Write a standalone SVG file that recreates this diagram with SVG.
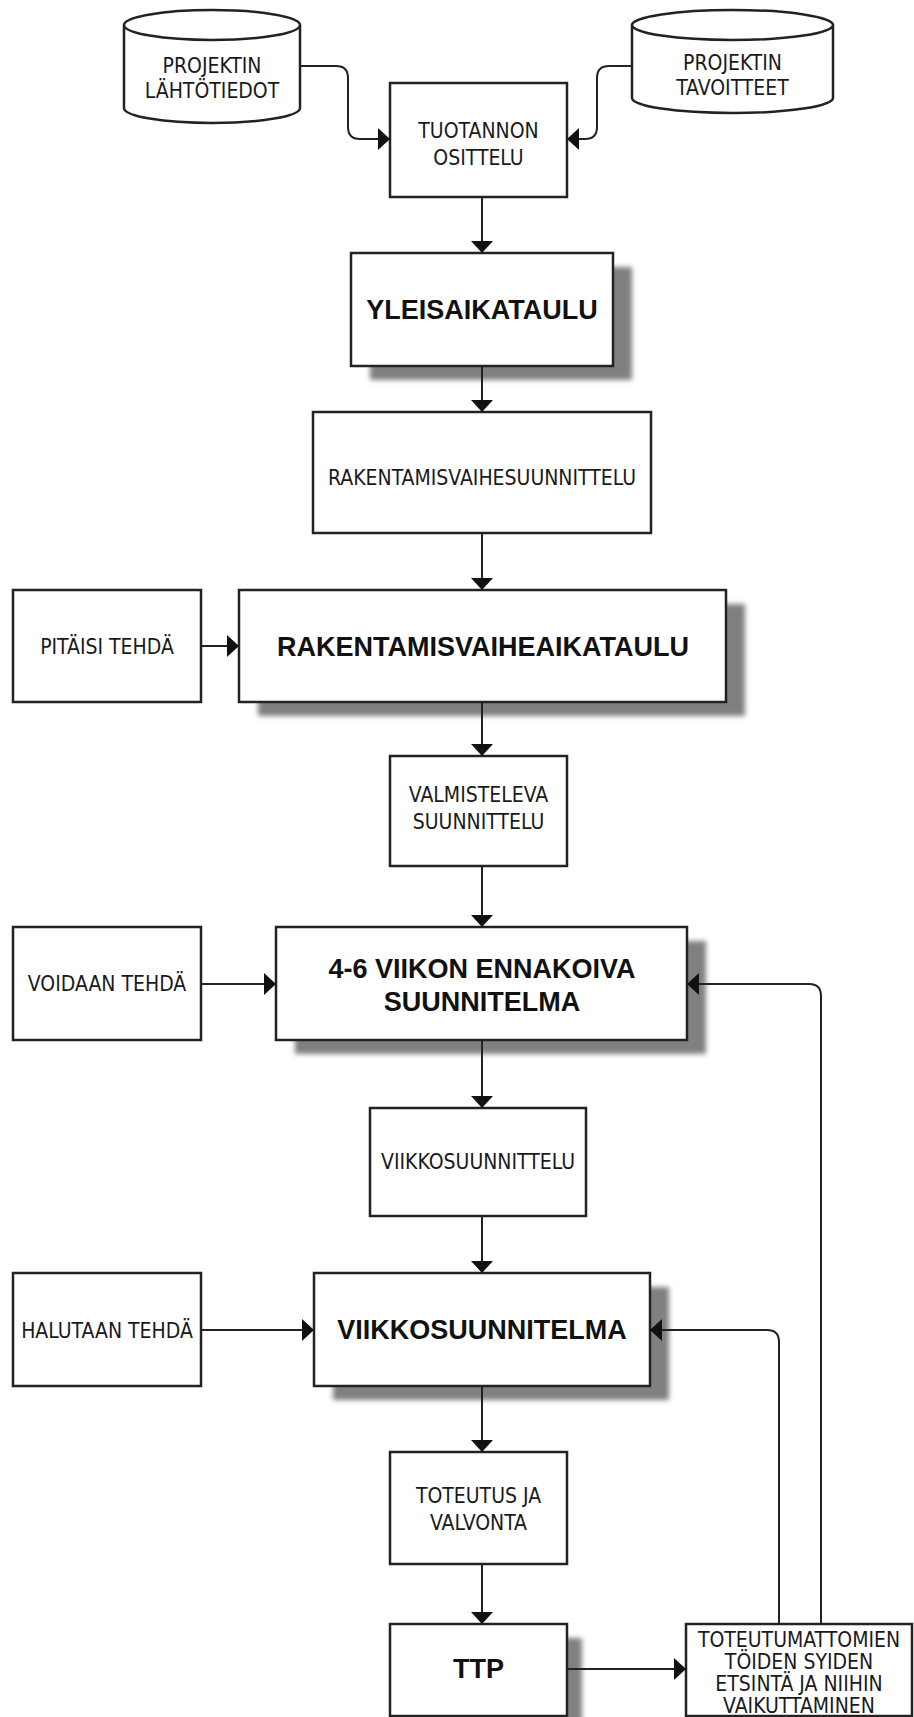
<svg xmlns="http://www.w3.org/2000/svg" width="914" height="1717" viewBox="0 0 914 1717">
<style>
.box{fill:#fff;stroke:#222;stroke-width:2.5}
.shadow{fill:#808080;filter:url(#blur)}
.t{font-family:"DejaVu Sans Condensed","DejaVu Sans",sans-serif;font-stretch:condensed;font-size:21px;fill:#1a1a1a;text-anchor:middle}
.b{font-family:"Liberation Sans",Arial,sans-serif;font-size:27px;font-weight:bold;fill:#111;text-anchor:middle}
.c{fill:none;stroke:#222;stroke-width:2}
</style>
<defs>
<filter id="blur" x="-10%" y="-10%" width="120%" height="120%"><feGaussianBlur stdDeviation="2.5"/></filter>
<marker id="arr" viewBox="0 0 12 22" refX="12" refY="11" markerWidth="12" markerHeight="22" markerUnits="userSpaceOnUse" orient="auto"><path d="M0,0 L12,11 L0,22 Z" fill="#111"/></marker>
</defs>
<rect width="914" height="1717" fill="#fff"/>

<g id="n-lahtotiedot">
<path class="box" d="M124,25 V108 A88,15 0 0 0 300,108 V25 A88,15 0 0 0 124,25 Z"/>
<path class="box" d="M124,25 A88,15 0 0 0 300,25"/>
<text class="t" x="212" y="73">PROJEKTIN</text>
<text class="t" x="212" y="98">LÄHTÖTIEDOT</text>
</g>

<g id="n-tavoitteet">
<path class="box" d="M632,25 V98 A100.5,15 0 0 0 833,98 V25 A100.5,15 0 0 0 632,25 Z"/>
<path class="box" d="M632,25 A100.5,15 0 0 0 833,25"/>
<text class="t" x="732.5" y="70">PROJEKTIN</text>
<text class="t" x="732.5" y="95">TAVOITTEET</text>
</g>

<g id="n-osittelu">
<rect class="box" x="390" y="83" width="177" height="114"/>
<text class="t" x="478.5" y="138">TUOTANNON</text>
<text class="t" x="478.5" y="165">OSITTELU</text>
</g>

<g id="n-yleisaikataulu">
<rect class="shadow" x="370" y="267" width="262" height="113"/>
<rect class="box" x="351" y="253" width="262" height="113"/>
<text class="b" x="482" y="319">YLEISAIKATAULU</text>
</g>

<g id="n-rvsuunnittelu">
<rect class="box" x="313" y="412" width="338" height="121"/>
<text class="t" x="482" y="485">RAKENTAMISVAIHESUUNNITTELU</text>
</g>

<g id="n-pitaisi">
<rect class="box" x="13" y="590" width="188" height="112"/>
<text class="t" x="107" y="654">PITÄISI TEHDÄ</text>
</g>

<g id="n-rvaikataulu">
<rect class="shadow" x="258" y="604" width="487" height="112"/>
<rect class="box" x="239" y="590" width="487" height="112"/>
<text class="b" x="483" y="656">RAKENTAMISVAIHEAIKATAULU</text>
</g>

<g id="n-valmisteleva">
<rect class="box" x="390" y="756" width="177" height="110"/>
<text class="t" x="478.5" y="802">VALMISTELEVA</text>
<text class="t" x="478.5" y="829">SUUNNITTELU</text>
</g>

<g id="n-voidaan">
<rect class="box" x="13" y="927" width="188" height="113"/>
<text class="t" x="107" y="991">VOIDAAN TEHDÄ</text>
</g>

<g id="n-ennakoiva">
<rect class="shadow" x="295" y="941" width="411" height="113"/>
<rect class="box" x="276" y="927" width="411" height="113"/>
<text class="b" x="482" y="978">4-6 VIIKON ENNAKOIVA</text>
<text class="b" x="482" y="1011">SUUNNITELMA</text>
</g>

<g id="n-viikkosuunnittelu">
<rect class="box" x="370" y="1108" width="216" height="108"/>
<text class="t" x="478" y="1169">VIIKKOSUUNNITTELU</text>
</g>

<g id="n-halutaan">
<rect class="box" x="13" y="1273" width="188" height="113"/>
<text class="t" x="107" y="1338">HALUTAAN TEHDÄ</text>
</g>

<g id="n-viikkosuunnitelma">
<rect class="shadow" x="333" y="1287" width="336" height="113"/>
<rect class="box" x="314" y="1273" width="336" height="113"/>
<text class="b" x="482" y="1339">VIIKKOSUUNNITELMA</text>
</g>

<g id="n-toteutus">
<rect class="box" x="390" y="1452" width="177" height="112"/>
<text class="t" x="478.5" y="1503">TOTEUTUS JA</text>
<text class="t" x="478.5" y="1530">VALVONTA</text>
</g>

<g id="n-ttp">
<rect class="shadow" x="405" y="1638" width="177" height="92"/>
<rect class="box" x="390" y="1624" width="177" height="92"/>
<text class="b" x="478.5" y="1678">TTP</text>
</g>

<g id="n-toteutumattomien">
<rect class="box" x="686" y="1624" width="226" height="92"/>
<text class="t" x="799" y="1647">TOTEUTUMATTOMIEN</text>
<text class="t" x="799" y="1669">TÖIDEN SYIDEN</text>
<text class="t" x="799" y="1691">ETSINTÄ JA NIIHIN</text>
<text class="t" x="799" y="1713">VAIKUTTAMINEN</text>
</g>

<g id="connectors">
<path class="c" d="M300,66 H336 Q348,66 348,78 V127 Q348,139 360,139 H390" marker-end="url(#arr)"/>
<path class="c" d="M632,66 H609 Q597,66 597,78 V127 Q597,139 585,139 H567" marker-end="url(#arr)"/>
<path class="c" d="M482,197 V253" marker-end="url(#arr)"/>
<path class="c" d="M482,366 V412" marker-end="url(#arr)"/>
<path class="c" d="M482,533 V590" marker-end="url(#arr)"/>
<path class="c" d="M201,646 H239" marker-end="url(#arr)"/>
<path class="c" d="M482,702 V756" marker-end="url(#arr)"/>
<path class="c" d="M482,866 V927" marker-end="url(#arr)"/>
<path class="c" d="M201,984 H276" marker-end="url(#arr)"/>
<path class="c" d="M482,1040 V1108" marker-end="url(#arr)"/>
<path class="c" d="M482,1216 V1273" marker-end="url(#arr)"/>
<path class="c" d="M201,1330 H314" marker-end="url(#arr)"/>
<path class="c" d="M482,1386 V1452" marker-end="url(#arr)"/>
<path class="c" d="M482,1564 V1624" marker-end="url(#arr)"/>
<path class="c" d="M567,1669 H686" marker-end="url(#arr)"/>
<path class="c" d="M779,1624 V1342 Q779,1330 767,1330 H650" marker-end="url(#arr)"/>
<path class="c" d="M821,1624 V996 Q821,984 809,984 H687" marker-end="url(#arr)"/>
</g>
</svg>
